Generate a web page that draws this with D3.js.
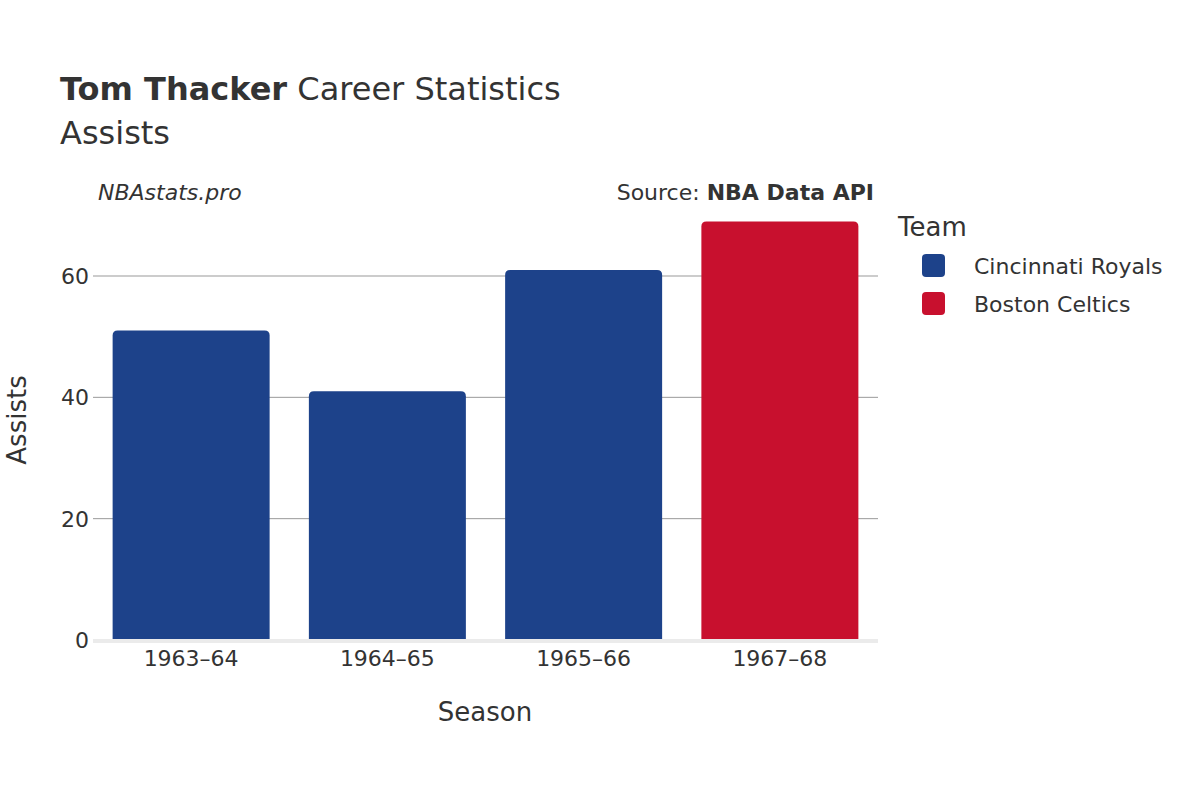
<!DOCTYPE html>
<html><head><meta charset="utf-8">
<script src="https://cdn.jsdelivr.net/npm/d3@7"></script>
<style>body{margin:0;background:#fff}text{font-family:"DejaVu Sans",sans-serif;fill:#333}</style>
</head><body>
<svg id="c" width="1200" height="800"></svg>
<script>
const seasons=["1963–64","1964–65","1965–66","1967–68"];
const assists=[51,41,61,69];
const teams=["Cincinnati Royals","Cincinnati Royals","Cincinnati Royals","Boston Celtics"];
const legendTeams=["Cincinnati Royals","Boston Celtics"];
const teamColors=["#1d428a","#c8102e"];
const yTicks=[0,20,40,60];

const svg=d3.select("#c");
const L=93,R=878,B=640;
const x=d3.scaleBand().domain(seasons).range([L,R]).paddingInner(0.2).paddingOuter(0.1);
const y=d3.scaleLinear().domain([0,72]).range([B,B-72*(364/60)]);
const color=d3.scaleOrdinal().domain(legendTeams).range(teamColors);

svg.append("g").selectAll("line").data(yTicks.filter(d=>d>0)).join("line")
 .attr("x1",L).attr("x2",R).attr("y1",d=>y(d)).attr("y2",d=>y(d)).attr("stroke","#999").attr("stroke-width",1);
svg.append("g").selectAll("text").data(yTicks).join("text")
 .attr("x",L-4).attr("y",d=>y(d)+8).attr("text-anchor","end").attr("font-size",22).attr("fill","#444").text(d=>d);

svg.append("g").selectAll("path").data(seasons).join("path")
 .attr("fill",(d,i)=>color(teams[i]))
 .attr("d",(d,i)=>{const x0=x(d),w=x.bandwidth(),y0=y(assists[i]),r=5;
   return `M${x0},${B}V${y0+r}Q${x0},${y0} ${x0+r},${y0}H${x0+w-r}Q${x0+w},${y0} ${x0+w},${y0+r}V${B}Z`;});

svg.append("line").attr("x1",L).attr("x2",R).attr("y1",B+1).attr("y2",B+1).attr("stroke","#ebebeb").attr("stroke-width",4);

svg.append("g").selectAll("text").data(seasons).join("text")
 .attr("x",d=>x(d)+x.bandwidth()/2).attr("y",666).attr("text-anchor","middle").attr("font-size",22).attr("fill","#444").text(d=>d);

svg.append("text").attr("x",485).attr("y",721).attr("text-anchor","middle").attr("font-size",26).text("Season");
svg.append("text").attr("transform","translate(26,420) rotate(-90)").attr("text-anchor","middle").attr("font-size",26).text("Assists");

const t=svg.append("text").attr("x",60).attr("y",100).attr("font-size",32);
t.append("tspan").attr("font-weight","bold").text("Tom Thacker");
t.append("tspan").text(" Career Statistics");
svg.append("text").attr("x",60).attr("y",144).attr("font-size",32).text("Assists");
svg.append("text").attr("x",98).attr("y",200).attr("font-size",22).attr("font-style","italic").text("NBAstats.pro");
const s=svg.append("text").attr("x",874).attr("y",200).attr("font-size",22).attr("text-anchor","end");
s.append("tspan").text("Source: ");
s.append("tspan").attr("font-weight","bold").text("NBA Data API");

svg.append("text").attr("x",898).attr("y",236).attr("font-size",26).text("Team");
const lg=svg.append("g").selectAll("g").data(legendTeams).join("g").attr("transform",(d,i)=>`translate(922,${254+i*38})`);
lg.append("rect").attr("width",23).attr("height",23).attr("rx",4).attr("fill",d=>color(d));
lg.append("text").attr("x",52).attr("y",20).attr("font-size",22).text(d=>d);
</script></body></html>
